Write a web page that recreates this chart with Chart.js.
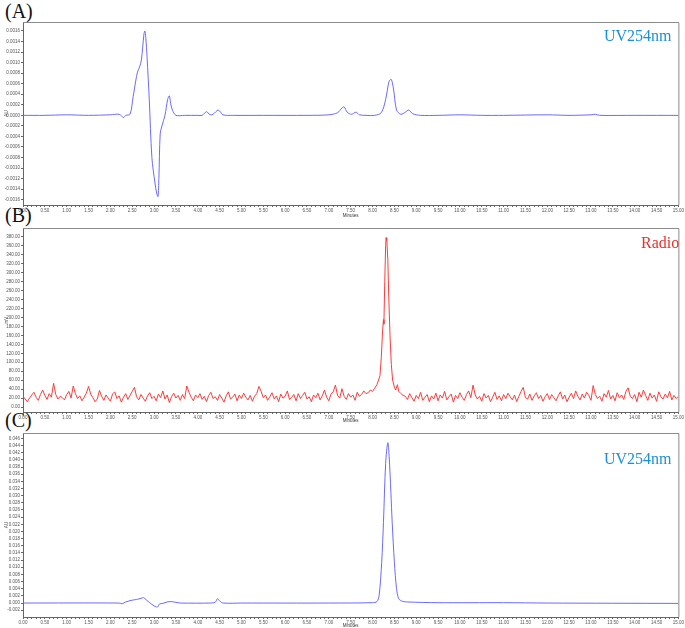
<!DOCTYPE html>
<html>
<head>
<meta charset="utf-8">
<script src="https://cdn.jsdelivr.net/npm/chart.js@4.4.1/dist/chart.umd.min.js"></script>
<style>
body { margin:0; background:#fff; width:685px; height:628px; overflow:hidden; position:relative; }
.panel { position:absolute; left:0; width:685px; }
.tag { position:absolute; left:5px; font-family:"Liberation Serif","DejaVu Serif",serif; font-size:20px; line-height:20px; color:#111; }
.name { position:absolute; font-family:"Liberation Serif","DejaVu Serif",serif; font-size:16px; line-height:16px; }
</style>
</head>
<body>
<div class="tag" style="top:1px">(A)</div>
<div class="tag" style="top:205px">(B)</div>
<div class="tag" style="top:410px">(C)</div>

<div class="panel" style="top:0px;height:218px"><canvas id="chartA" width="685" height="218"></canvas></div>
<div class="panel" style="top:215px;height:208px"><canvas id="chartB" width="685" height="208"></canvas></div>
<div class="panel" style="top:425px;height:203px"><canvas id="chartC" width="685" height="203"></canvas></div>

<div class="name" style="left:604px;top:28px;color:#1b8fd8">UV254nm</div>
<div class="name" style="left:641px;top:235px;color:#e8302a">Radio</div>
<div class="name" style="left:604px;top:451px;color:#1b8fd8">UV254nm</div>

<script>
// (A) UV254nm trace, minutes / AU
const uvATime = [0, 0.5, 1.0, 1.5, 2.0, 2.2, 2.3, 2.35, 2.45, 2.52, 2.58, 2.62, 2.67, 2.71, 2.74, 2.77, 2.79, 2.81, 2.84, 2.89,
  2.95, 3.02, 3.06, 3.09, 3.11, 3.14, 3.18, 3.25, 3.31, 3.35, 3.38, 3.42, 3.5, 3.7, 4.0, 4.1, 4.2, 4.28, 4.35, 4.47,
  4.58, 4.8, 5.5, 6.5, 7.0, 7.2, 7.3, 7.35, 7.42, 7.52, 7.62, 7.7, 7.85, 8.05, 8.2, 8.3, 8.38, 8.43, 8.48, 8.55,
  8.65, 8.75, 8.83, 8.92, 9.1, 9.5, 10.0, 10.5, 11.0, 12.0, 12.5, 13.0, 13.1, 13.2, 14.0, 15.0];
const uvAValue = [0, 0, 0.00001, 0, 0.00001, 0.00002, -0.00004, 0, 0.00002, 0.00035, 0.00065, 0.00082, 0.00092, 0.00105, 0.0013, 0.00155, 0.0016, 0.00148, 0.0011, 0.0003,
  -0.0008, -0.00128, -0.00148, -0.00154, -0.0012, -0.00035, -0.0002, 0, 0.0003, 0.00037, 0.00022, 0.0001, 0, 0, 0, 0, 0.00007, 0.00001, 0.00002, 0.0001,
  0.00001, 0, 0, 0, 0.00001, 0.00005, 0.00014, 0.00016, 0.00006, 0.00002, 0.00006, 0.00001, 0, 0, 0.00005, 0.0003, 0.00065, 0.00068, 0.0005, 0.0001,
  0.00002, 0.00006, 0.0001, 0.00003, 0, 0, 0.00001, 0, 0, 0.00001, 0, 0.00001, 0.00002, 0, 0, 0];

// (B) Radio trace, mV. Noise sampled every 0.05 min, peak read point by point
const radioStep = 0.05;
const radioNoiseBefore = [ // 0.00 .. 7.95
  24, 18, 12, 20, 27, 33, 22, 15, 28, 38,
  26, 17, 30, 22, 53, 28, 18, 24, 21, 16,
  28, 35, 20, 47, 30, 19, 25, 14, 22, 31,
  46, 29, 21, 12, 18, 37, 24, 15, 27, 20,
  13, 29, 34, 19, 25, 11, 22, 30, 17, 26,
  35, 44, 23, 16, 28, 20, 13, 25, 32, 19,
  24, 14, 29, 21, 36, 18, 27, 10, 23, 31,
  20, 26, 15, 28, 19, 47, 33, 22, 14, 27,
  21, 30, 17, 24, 12, 26, 33, 19, 23, 15,
  28, 20, 11, 25, 34, 18, 22, 29, 14, 27,
  19, 31, 22, 16, 26, 13, 24, 30, 46, 35,
  21, 27, 15, 23, 32, 18, 25, 12, 29, 20,
  24, 36, 17, 22, 28, 14, 30, 19, 26, 33,
  18, 23, 12, 27, 21, 31, 16, 25, 38, 22,
  14, 29, 34, 49, 26, 20, 41, 24, 17, 30,
  22, 27, 15, 33, 24, 28, 36, 30, 32, 38];
const radioPeakTime = [8.00, 8.05, 8.10, 8.13, 8.17, 8.20, 8.23, 8.25, 8.26, 8.28, 8.30, 8.31, 8.32, 8.33, 8.35, 8.37, 8.40, 8.43, 8.46, 8.50, 8.53, 8.57, 8.60, 8.65, 8.70];
const radioPeakValue = [35, 42, 50, 58, 70, 110, 170, 195, 185, 280, 360, 378, 372, 376, 330, 250, 160, 95, 60, 45, 38, 50, 35, 30, 26];
const radioNoiseAfterStart = 8.75;
const radioNoiseAfter = [ // 8.75 .. 15.00
  24, 17, 30, 21, 13, 26, 19, 33, 15, 22,
  28, 12, 25, 18, 31, 14, 27, 20, 35, 16,
  23, 29, 11, 26, 19, 32, 22, 15, 28, 36,
  21, 49, 27, 18, 24, 13, 30, 20, 26, 12,
  22, 33, 17, 25, 14, 28, 19, 31, 23, 16,
  27, 12, 24, 35, 44, 21, 18, 29, 15, 25,
  32, 19, 26, 13, 23, 30, 17, 28, 21, 14,
  25, 34, 18, 27, 12, 22, 31, 19, 36, 24,
  16, 29, 20, 33, 26, 15, 48, 28, 19, 24,
  13, 30, 22, 37, 18, 26, 14, 32, 21, 27,
  17, 35, 43, 24, 19, 28, 12, 33, 22, 38,
  26, 15, 31, 20, 27, 13, 34, 23, 18, 29,
  21, 35, 16, 26, 19, 24];

// (C) UV254nm trace, minutes / AU
const uvCTime = [0, 2.2, 2.27, 2.35, 2.5, 2.6, 2.7, 2.76, 2.82, 2.9, 3.0, 3.08, 3.12, 3.2, 3.3, 3.39, 3.5, 3.6, 4.3, 4.4,
  4.45, 4.5, 4.58, 5.0, 7.0, 8.0, 8.1, 8.15, 8.21, 8.25, 8.3, 8.35, 8.38, 8.42, 8.45, 8.5, 8.55, 8.6, 8.68, 8.8,
  9.5, 11.0, 12.0, 15.0];
const uvCValue = [0, 0, -0.0002, 0.0003, 0.0008, 0.001, 0.0013, 0.0015, 0.0009, 0.0001, -0.0008, -0.0011, -0.0003, -0.0001, 0.0003, 0.0004, 0.0002, 0, 0, 0.0002,
  0.0012, 0.0006, 0, 0, 0, 0.0001, 0.0004, 0.002, 0.0114, 0.0225, 0.039, 0.0448, 0.041, 0.031, 0.0225, 0.0114, 0.004, 0.0012, 0.0005, 0.0003,
  0.0001, 0.0001, 0, -0.0001];

function pairs(t, v) { return t.map((x, i) => ({ x: x, y: v[i] })); }

const radioData = radioNoiseBefore.map((v, i) => ({ x: i * radioStep, y: v }))
  .concat(pairs(radioPeakTime, radioPeakValue))
  .concat(radioNoiseAfter.map((v, i) => ({ x: radioNoiseAfterStart + i * radioStep, y: v })));

const tickFont = { family: "Liberation Sans, Arial, sans-serif", size: 4.5 };
const axisColor = "#666";

const frame = {
  id: "frame",
  afterDraw(chart) {
    const a = chart.chartArea, ctx = chart.ctx;
    ctx.save();
    ctx.strokeStyle = "#8c8c8c";
    ctx.lineWidth = 1;
    ctx.beginPath();
    ctx.moveTo(a.left, a.top + 0.5);
    ctx.lineTo(a.right + 0.5, a.top + 0.5);
    ctx.lineTo(a.right + 0.5, a.bottom);
    ctx.stroke();
    ctx.restore();
  }
};

function makeChart(id, data, color, tension, y, padTop, xHeight) {
  new Chart(document.getElementById(id), {
    type: "line",
    data: { datasets: [{ data: data, borderColor: color, borderWidth: 1, pointRadius: 0, tension: tension, fill: false }] },
    options: {
      responsive: false,
      animation: false,
      devicePixelRatio: 1,
      layout: { padding: { top: padTop, right: 6, left: 4, bottom: 0 } },
      plugins: { legend: { display: false }, tooltip: { enabled: false } },
      scales: {
        x: {
          type: "linear", min: 0, max: 15,
          afterFit: s => { s.height = xHeight; },
          title: { display: true, text: "Minutes", font: tickFont, color: "#333", padding: 0 },
          border: { color: axisColor },
          grid: { drawOnChartArea: false, tickLength: 2, color: axisColor },
          ticks: {
            stepSize: 0.1, autoSkip: false, maxRotation: 0, padding: 1, font: tickFont, color: "#555",
            callback: v => Math.abs(v * 2 - Math.round(v * 2)) < 1e-6 ? v.toFixed(2) : ""
          }
        },
        y: {
          min: y.min, max: y.max,
          afterFit: s => { s.width = 19; },
          title: { display: true, text: y.title, font: tickFont, color: "#555", padding: 0 },
          border: { color: axisColor },
          grid: { drawOnChartArea: false, tickLength: 2, color: axisColor },
          ticks: {
            stepSize: y.step, includeBounds: false, autoSkip: false, padding: 1, font: tickFont, color: "#555",
            callback: v => (Math.abs(v) < 1e-9 ? 0 : v).toFixed(y.dec)
          }
        }
      }
    },
    plugins: [frame]
  });
}

makeChart("chartA", pairs(uvATime, uvAValue), "#6a6aff", 0.3,
  { min: -0.0017, max: 0.00177, step: 0.0002, dec: 4, title: "AU" }, 22, 13);
makeChart("chartB", radioData, "#ff3b3b", 0,
  { min: -11, max: 399.5, step: 20, dec: 2, title: "mV" }, 13, 11);
makeChart("chartC", pairs(uvCTime, uvCValue), "#6a6aff", 0.3,
  { min: -0.0039, max: 0.0475, step: 0.002, dec: 3, title: "AU" }, 8, 11);
</script>
</body>
</html>
